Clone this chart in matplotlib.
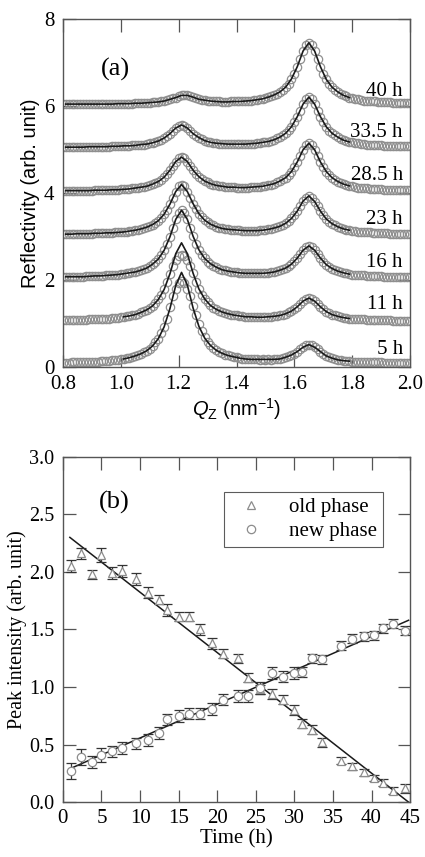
import numpy as np
import matplotlib
matplotlib.use('Agg')
import matplotlib.pyplot as plt

plt.rcParams['font.family'] = 'Liberation Serif'
plt.rcParams['mathtext.fontset'] = 'custom'
plt.rcParams['mathtext.rm'] = 'Liberation Sans'
plt.rcParams['mathtext.it'] = 'Liberation Sans:italic'

# ---- panel (a): reflectivity profiles, offset by 1 per curve ----
qz = np.linspace(0.80, 2.00, 121)      # measured Qz points (0.01 step)
fit_qz = np.linspace(0.81, 1.79, 50)   # points of the fitted curves

refl_5h = [0.09, 0.09, 0.09, 0.10, 0.10, 0.10, 0.10, 0.10, 0.11, 0.11,
           0.11, 0.12, 0.12, 0.13, 0.13, 0.14, 0.14, 0.15, 0.15, 0.16,
           0.17, 0.18, 0.20, 0.21, 0.23, 0.25, 0.27, 0.30, 0.33, 0.37,
           0.42, 0.48, 0.56, 0.65, 0.77, 0.92, 1.11, 1.38, 1.62, 1.78,
           1.92, 1.97, 1.93, 1.78, 1.62, 1.40, 1.18, 0.98, 0.82, 0.69,
           0.57, 0.49, 0.43, 0.38, 0.34, 0.31, 0.28, 0.26, 0.24, 0.23,
           0.22, 0.20, 0.19, 0.18, 0.17, 0.17, 0.17, 0.17, 0.16, 0.17,
           0.16, 0.17, 0.16, 0.17, 0.18, 0.18, 0.20, 0.22, 0.24, 0.27,
           0.30, 0.35, 0.40, 0.45, 0.49, 0.51, 0.49, 0.45, 0.40, 0.35,
           0.29, 0.25, 0.22, 0.20, 0.18, 0.16, 0.15, 0.14, 0.13, 0.13,
           0.12, 0.12, 0.11, 0.11, 0.11, 0.10, 0.10, 0.10, 0.10, 0.10,
           0.10, 0.09, 0.09, 0.09, 0.09, 0.09, 0.09, 0.09, 0.09, 0.09, 0.09]
refl_11h = [1.07, 1.07, 1.07, 1.07, 1.07, 1.08, 1.08, 1.08, 1.08, 1.09,
            1.09, 1.09, 1.09, 1.10, 1.10, 1.11, 1.11, 1.12, 1.12, 1.13,
            1.14, 1.15, 1.16, 1.17, 1.19, 1.20, 1.22, 1.25, 1.28, 1.31,
            1.35, 1.40, 1.47, 1.55, 1.65, 1.78, 1.95, 2.14, 2.32, 2.46,
            2.55, 2.58, 2.55, 2.46, 2.32, 2.15, 1.95, 1.79, 1.66, 1.56,
            1.48, 1.41, 1.36, 1.32, 1.29, 1.26, 1.24, 1.22, 1.20, 1.19,
            1.18, 1.17, 1.16, 1.15, 1.15, 1.15, 1.14, 1.14, 1.14, 1.14,
            1.14, 1.15, 1.15, 1.16, 1.17, 1.18, 1.20, 1.22, 1.25, 1.28,
            1.33, 1.38, 1.45, 1.51, 1.56, 1.58, 1.56, 1.51, 1.44, 1.38,
            1.32, 1.27, 1.23, 1.20, 1.18, 1.16, 1.14, 1.13, 1.12, 1.11,
            1.11, 1.10, 1.10, 1.09, 1.09, 1.08, 1.08, 1.08, 1.07, 1.07,
            1.07, 1.07, 1.07, 1.07, 1.06, 1.06, 1.06, 1.06, 1.06, 1.06, 1.06]
refl_16h = [2.07, 2.07, 2.07, 2.07, 2.07, 2.07, 2.07, 2.07, 2.08, 2.08,
            2.08, 2.09, 2.09, 2.09, 2.09, 2.10, 2.10, 2.11, 2.11, 2.12,
            2.13, 2.14, 2.15, 2.16, 2.17, 2.18, 2.20, 2.22, 2.25, 2.27,
            2.31, 2.36, 2.41, 2.48, 2.57, 2.68, 2.82, 2.99, 3.19, 3.39,
            3.54, 3.60, 3.54, 3.39, 3.19, 3.00, 2.83, 2.69, 2.58, 2.49,
            2.42, 2.37, 2.32, 2.29, 2.26, 2.23, 2.22, 2.20, 2.19, 2.18,
            2.17, 2.16, 2.16, 2.15, 2.15, 2.15, 2.15, 2.15, 2.15, 2.15,
            2.16, 2.16, 2.17, 2.18, 2.20, 2.22, 2.24, 2.27, 2.31, 2.36,
            2.43, 2.50, 2.59, 2.68, 2.75, 2.78, 2.75, 2.68, 2.59, 2.50,
            2.42, 2.35, 2.30, 2.26, 2.22, 2.20, 2.18, 2.16, 2.15, 2.13,
            2.12, 2.12, 2.11, 2.10, 2.10, 2.09, 2.09, 2.08, 2.08, 2.08,
            2.08, 2.07, 2.07, 2.07, 2.07, 2.07, 2.06, 2.06, 2.06, 2.06, 2.06]
refl_23h = [3.05, 3.05, 3.05, 3.05, 3.05, 3.06, 3.06, 3.06, 3.06, 3.06,
            3.06, 3.07, 3.07, 3.07, 3.07, 3.08, 3.08, 3.08, 3.09, 3.09,
            3.10, 3.10, 3.11, 3.12, 3.13, 3.14, 3.15, 3.17, 3.18, 3.21,
            3.23, 3.27, 3.31, 3.36, 3.43, 3.51, 3.61, 3.74, 3.89, 4.03,
            4.15, 4.19, 4.15, 4.03, 3.89, 3.75, 3.62, 3.52, 3.44, 3.37,
            3.32, 3.28, 3.25, 3.22, 3.20, 3.18, 3.17, 3.16, 3.15, 3.15,
            3.14, 3.14, 3.13, 3.13, 3.13, 3.13, 3.13, 3.13, 3.14, 3.14,
            3.15, 3.16, 3.17, 3.19, 3.21, 3.23, 3.26, 3.30, 3.35, 3.41,
            3.49, 3.58, 3.69, 3.81, 3.89, 3.93, 3.89, 3.80, 3.69, 3.58,
            3.48, 3.40, 3.34, 3.29, 3.25, 3.22, 3.19, 3.17, 3.15, 3.14,
            3.13, 3.12, 3.11, 3.10, 3.09, 3.09, 3.09, 3.08, 3.08, 3.07,
            3.07, 3.07, 3.07, 3.06, 3.06, 3.06, 3.06, 3.06, 3.05, 3.05, 3.05]
refl_28h = [4.05, 4.05, 4.05, 4.05, 4.05, 4.05, 4.05, 4.05, 4.05, 4.05,
            4.05, 4.06, 4.06, 4.06, 4.06, 4.06, 4.06, 4.07, 4.07, 4.07,
            4.08, 4.08, 4.09, 4.09, 4.10, 4.11, 4.12, 4.13, 4.14, 4.15,
            4.17, 4.20, 4.22, 4.26, 4.30, 4.36, 4.43, 4.52, 4.62, 4.72,
            4.79, 4.82, 4.79, 4.72, 4.62, 4.52, 4.44, 4.37, 4.31, 4.27,
            4.24, 4.21, 4.19, 4.17, 4.16, 4.15, 4.14, 4.13, 4.13, 4.13,
            4.12, 4.12, 4.12, 4.12, 4.12, 4.13, 4.13, 4.14, 4.14, 4.15,
            4.16, 4.18, 4.19, 4.21, 4.24, 4.27, 4.31, 4.35, 4.42, 4.49,
            4.59, 4.71, 4.85, 4.99, 5.10, 5.14, 5.10, 4.99, 4.85, 4.71,
            4.59, 4.49, 4.41, 4.35, 4.30, 4.26, 4.22, 4.20, 4.18, 4.16,
            4.15, 4.13, 4.12, 4.11, 4.11, 4.10, 4.09, 4.09, 4.08, 4.08,
            4.08, 4.07, 4.07, 4.07, 4.07, 4.06, 4.06, 4.06, 4.06, 4.06, 4.06]
refl_33h = [5.05, 5.05, 5.05, 5.05, 5.05, 5.05, 5.05, 5.05, 5.06, 5.06,
            5.06, 5.06, 5.06, 5.06, 5.06, 5.06, 5.06, 5.07, 5.07, 5.07,
            5.07, 5.08, 5.08, 5.08, 5.09, 5.09, 5.10, 5.11, 5.11, 5.12,
            5.14, 5.15, 5.17, 5.19, 5.22, 5.26, 5.30, 5.36, 5.42, 5.49,
            5.54, 5.56, 5.54, 5.49, 5.43, 5.36, 5.31, 5.27, 5.23, 5.20,
            5.18, 5.16, 5.15, 5.14, 5.13, 5.13, 5.12, 5.12, 5.12, 5.12,
            5.12, 5.12, 5.12, 5.12, 5.13, 5.13, 5.13, 5.14, 5.15, 5.16,
            5.17, 5.18, 5.20, 5.22, 5.25, 5.28, 5.32, 5.37, 5.44, 5.52,
            5.62, 5.75, 5.89, 6.04, 6.15, 6.20, 6.15, 6.04, 5.89, 5.75,
            5.62, 5.52, 5.43, 5.37, 5.32, 5.28, 5.24, 5.21, 5.19, 5.17,
            5.16, 5.15, 5.14, 5.13, 5.12, 5.11, 5.11, 5.10, 5.10, 5.09,
            5.09, 5.08, 5.08, 5.08, 5.08, 5.07, 5.07, 5.07, 5.07, 5.07, 5.07]
refl_40h = [6.04, 6.04, 6.04, 6.04, 6.04, 6.04, 6.04, 6.04, 6.04, 6.04,
            6.04, 6.04, 6.04, 6.04, 6.04, 6.04, 6.04, 6.04, 6.04, 6.05,
            6.05, 6.05, 6.05, 6.05, 6.05, 6.06, 6.06, 6.06, 6.06, 6.07,
            6.07, 6.08, 6.08, 6.09, 6.10, 6.11, 6.13, 6.15, 6.17, 6.19,
            6.22, 6.24, 6.25, 6.24, 6.22, 6.20, 6.17, 6.15, 6.14, 6.13,
            6.11, 6.11, 6.10, 6.10, 6.10, 6.09, 6.09, 6.09, 6.10, 6.10,
            6.10, 6.10, 6.11, 6.11, 6.12, 6.12, 6.13, 6.14, 6.15, 6.16,
            6.18, 6.20, 6.22, 6.25, 6.28, 6.32, 6.37, 6.43, 6.51, 6.62,
            6.74, 6.90, 7.08, 7.26, 7.40, 7.45, 7.40, 7.26, 7.08, 6.90,
            6.74, 6.61, 6.51, 6.43, 6.37, 6.32, 6.28, 6.24, 6.22, 6.19,
            6.17, 6.16, 6.15, 6.13, 6.12, 6.12, 6.11, 6.10, 6.10, 6.09,
            6.09, 6.08, 6.08, 6.08, 6.07, 6.07, 6.07, 6.07, 6.06, 6.06, 6.06]

# fitted curves (5 h and 11 h fits start at 1.01)
fit_5h = [0.18, 0.21, 0.25, 0.30, 0.37, 0.48, 0.65, 0.92, 1.34, 1.87,
          2.17, 1.88, 1.35, 0.93, 0.66, 0.49, 0.38, 0.31, 0.26, 0.23,
          0.20, 0.18, 0.17, 0.17, 0.17, 0.17, 0.17, 0.18, 0.22, 0.27,
          0.35, 0.45, 0.51, 0.45, 0.35, 0.25, 0.20, 0.16, 0.14, 0.13]
fit_11h = [1.15, 1.17, 1.20, 1.25, 1.31, 1.40, 1.55, 1.78, 2.14, 2.60,
           2.85, 2.60, 2.15, 1.79, 1.56, 1.41, 1.32, 1.26, 1.22, 1.19,
           1.17, 1.15, 1.15, 1.14, 1.14, 1.15, 1.16, 1.18, 1.22, 1.28,
           1.38, 1.51, 1.58, 1.51, 1.38, 1.27, 1.20, 1.16, 1.13, 1.11]
fit_16h = [2.07, 2.07, 2.07, 2.07, 2.08, 2.09, 2.09, 2.10, 2.11, 2.12,
           2.14, 2.16, 2.18, 2.22, 2.27, 2.36, 2.48, 2.68, 2.99, 3.39,
           3.60, 3.39, 3.00, 2.69, 2.49, 2.37, 2.29, 2.23, 2.20, 2.18,
           2.16, 2.15, 2.15, 2.15, 2.15, 2.16, 2.18, 2.22, 2.27, 2.36,
           2.50, 2.68, 2.78, 2.68, 2.50, 2.35, 2.26, 2.20, 2.16, 2.13]
fit_23h = [3.05, 3.05, 3.06, 3.06, 3.06, 3.07, 3.07, 3.08, 3.08, 3.09,
           3.10, 3.12, 3.14, 3.17, 3.21, 3.27, 3.36, 3.51, 3.74, 4.03,
           4.19, 4.03, 3.75, 3.52, 3.37, 3.28, 3.22, 3.18, 3.16, 3.15,
           3.14, 3.13, 3.13, 3.13, 3.14, 3.16, 3.19, 3.23, 3.30, 3.41,
           3.58, 3.81, 3.93, 3.80, 3.58, 3.40, 3.29, 3.22, 3.17, 3.14]
fit_28h = [4.05, 4.05, 4.05, 4.05, 4.05, 4.06, 4.06, 4.06, 4.07, 4.07,
           4.08, 4.09, 4.11, 4.13, 4.15, 4.20, 4.26, 4.36, 4.52, 4.72,
           4.82, 4.72, 4.52, 4.37, 4.27, 4.21, 4.17, 4.15, 4.13, 4.13,
           4.12, 4.12, 4.13, 4.14, 4.15, 4.18, 4.21, 4.27, 4.35, 4.49,
           4.71, 4.99, 5.14, 4.99, 4.71, 4.49, 4.35, 4.26, 4.20, 4.16]
fit_33h = [5.05, 5.05, 5.05, 5.05, 5.06, 5.06, 5.06, 5.06, 5.07, 5.07,
           5.08, 5.08, 5.09, 5.11, 5.12, 5.15, 5.19, 5.26, 5.36, 5.49,
           5.56, 5.49, 5.36, 5.27, 5.20, 5.16, 5.14, 5.13, 5.12, 5.12,
           5.12, 5.12, 5.13, 5.14, 5.16, 5.18, 5.22, 5.28, 5.37, 5.52,
           5.75, 6.04, 6.20, 6.04, 5.75, 5.52, 5.37, 5.28, 5.21, 5.17]
fit_40h = [6.04, 6.04, 6.04, 6.04, 6.04, 6.04, 6.04, 6.04, 6.04, 6.05,
           6.05, 6.05, 6.06, 6.06, 6.07, 6.08, 6.09, 6.11, 6.15, 6.19,
           6.24, 6.24, 6.20, 6.15, 6.13, 6.11, 6.10, 6.09, 6.09, 6.10,
           6.10, 6.11, 6.12, 6.14, 6.16, 6.20, 6.25, 6.32, 6.43, 6.62,
           6.90, 7.26, 7.45, 7.26, 6.90, 6.61, 6.43, 6.32, 6.24, 6.19]

time_labels = ['5 h', '11 h', '16 h', '23 h', '28.5 h', '33.5 h', '40 h']
label_y = [0.39, 1.43, 2.39, 3.39, 4.40, 5.39, 6.34]

# ---- panel (b): peak intensities vs time ----
time_h = [1.0, 2.4, 3.8, 5.0, 6.3, 7.6, 9.5, 11.0, 12.4, 13.5, 15.0, 16.3,
          17.8, 19.3, 20.7, 22.7, 24.0, 25.5, 27.1, 28.5, 29.9, 31.0, 32.3,
          33.6, 36.1, 37.5, 39.0, 40.3, 41.5, 42.8, 44.4]
old_phase = [2.05, 2.16, 1.98, 2.15, 1.99, 2.01, 1.94, 1.82, 1.76, 1.67, 1.61,
             1.61, 1.50, 1.38, 1.29, 1.25, 1.08, 0.98, 0.94, 0.89, 0.80, 0.68,
             0.63, 0.52, 0.36, 0.31, 0.26, 0.21, 0.17, 0.10, 0.12]
old_err = [0.05, 0.05, 0.04, 0.06, 0.05, 0.05, 0.05, 0.05, 0.04, 0.05, 0.04,
           0.04, 0.05, 0.05, 0.04, 0.04, 0.04, 0.04, 0.04, 0.04, 0.04, 0.04,
           0.04, 0.04, 0.03, 0.03, 0.03, 0.03, 0.03, 0.03, 0.04]
new_phase = [0.27, 0.39, 0.35, 0.41, 0.44, 0.47, 0.51, 0.54, 0.60, 0.72, 0.75,
             0.77, 0.77, 0.81, 0.89, 0.92, 0.92, 0.99, 1.12, 1.09, 1.12, 1.13,
             1.25, 1.24, 1.36, 1.42, 1.44, 1.45, 1.51, 1.55, 1.49]
new_err = [0.07, 0.07, 0.05, 0.06, 0.05, 0.05, 0.05, 0.05, 0.05, 0.05, 0.05,
           0.05, 0.05, 0.05, 0.05, 0.05, 0.05, 0.05, 0.05, 0.05, 0.05, 0.04,
           0.04, 0.04, 0.04, 0.04, 0.04, 0.04, 0.04, 0.04, 0.04]
fit_t = [0.9, 44.8]
old_fit = [2.30, 0.0]
new_fit = [0.29, 1.58]

grey = '#8c8c8c'
frame = '#555555'

fig = plt.figure(figsize=(4.25, 8.57), dpi=100)
ax1 = fig.add_axes([0.148, 0.572, 0.817, 0.406])
ax2 = fig.add_axes([0.148, 0.064, 0.817, 0.403])

refl_all = [refl_5h, refl_11h, refl_16h, refl_23h, refl_28h, refl_33h, refl_40h]
fit_all = [fit_5h, fit_11h, fit_16h, fit_23h, fit_28h, fit_33h, fit_40h]
for refl, fit, lab, ly in zip(refl_all, fit_all, time_labels, label_y):
    ax1.plot(qz, refl, 'o', ms=6, mfc='none', mec='#8f8f8f', mew=0.9, zorder=2)
    ax1.plot(fit_qz[len(fit_qz) - len(fit):], fit, color='#1a1a1a', lw=1.2, zorder=3)
    ax1.text(1.975, ly, lab, ha='right', va='center', fontsize=15, zorder=4)

ax1.set_xlim(0.8, 2.0)
ax1.set_ylim(0, 8)
ax1.set_xticks([0.8, 1.0, 1.2, 1.4, 1.6, 1.8, 2.0])
ax1.set_xticklabels(['0.8', '1.0', '1.2', '1.4', '1.6', '1.8', '2.0'])
ax1.set_yticks([0, 2, 4, 6, 8])
ax1.text(0.98, 6.84, '(a)', ha='center', va='center', fontsize=19)
ax1.set_ylabel('Reflectivity (arb. unit)', family='Liberation Sans', fontsize=14.5)
ax1.yaxis.set_label_coords(-0.065, 0.5)
ax1.set_xlabel(r'$Q_\mathrm{Z}$ (nm$^{-1}$)', family='Liberation Sans', fontsize=14.5)
ax1.xaxis.set_label_coords(0.5, -0.084)

ax2.plot(fit_t, old_fit, color='#1a1a1a', lw=1.1, zorder=2)
ax2.plot(fit_t, new_fit, color='#1a1a1a', lw=1.1, zorder=2)
ax2.errorbar(time_h, old_phase, yerr=old_err, fmt='^', ms=6, mfc='white', mec=grey,
             mew=0.9, ecolor='#333333', elinewidth=0.9, capsize=3.5, capthick=0.9,
             label='old phase', zorder=3)
ax2.errorbar(time_h, new_phase, yerr=new_err, fmt='o', ms=6, mfc='white', mec=grey,
             mew=0.9, ecolor='#333333', elinewidth=0.9, capsize=3.5, capthick=0.9,
             label='new phase', zorder=3)
ax2.set_xlim(0, 45)
ax2.set_ylim(0, 3)
ax2.set_xticks(range(0, 46, 5))
ax2.set_yticks([0.0, 0.5, 1.0, 1.5, 2.0, 2.5, 3.0])
ax2.set_yticklabels(['0.0', '0.5', '1.0', '1.5', '2.0', '2.5', '3.0'])
ax2.text(6.7, 2.6, '(b)', ha='center', va='center', fontsize=19)
ax2.set_ylabel('Peak intensity (arb. unit)', fontsize=14.5)
ax2.yaxis.set_label_coords(-0.102, 0.5)
ax2.set_xlabel('Time (h)', fontsize=15)
ax2.xaxis.set_label_coords(0.5, -0.078)

handles, labels = ax2.get_legend_handles_labels()
handles = [h[0] for h in handles]
leg = ax2.legend(handles, labels, loc='upper right', bbox_to_anchor=(0.922, 0.899),
                 borderaxespad=0, fontsize=15, fancybox=False, frameon=True,
                 handletextpad=0.8, borderpad=0.3, labelspacing=0.2)
leg.get_frame().set_edgecolor('#333333')
leg.get_frame().set_linewidth(0.8)

for ax in (ax1, ax2):
    ax.tick_params(direction='in', length=9, width=0.9, color=frame, labelsize=15,
                   top=True, right=True, pad=5)
    for s in ax.spines.values():
        s.set_color(frame)
        s.set_linewidth(1.0)
ax1.tick_params(axis='x', pad=6)
ax1.tick_params(axis='y', pad=6)
ax2.tick_params(axis='y', pad=6, labelsize=14.5)

fig.savefig('out.png', dpi=100)
